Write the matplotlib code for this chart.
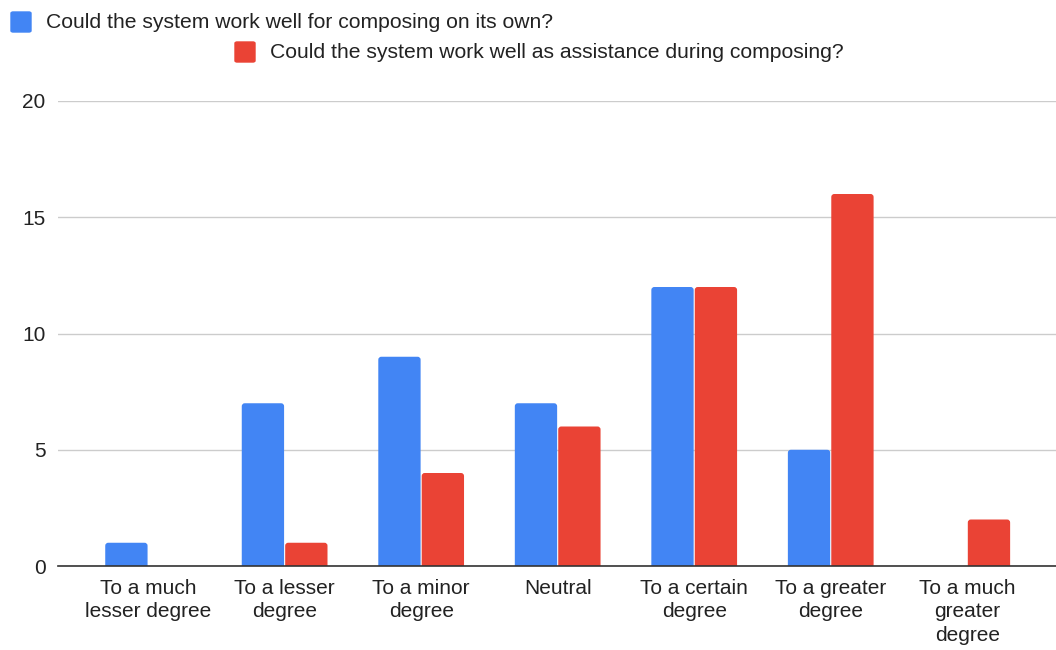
import numpy as np
import matplotlib.pyplot as plt
from matplotlib.patches import FancyBboxPatch

plt.rcParams['font.family'] = ['Liberation Sans', 'DejaVu Sans']

categories = ["To a much\nlesser degree", "To a lesser\ndegree", "To a minor\ndegree",
              "Neutral", "To a certain\ndegree", "To a greater\ndegree",
              "To a much\ngreater\ndegree"]
own_values = [1, 7, 9, 7, 12, 5, 0]
assist_values = [0, 1, 4, 6, 12, 16, 2]
series_names = ["Could the system work well for composing on its own?",
                "Could the system work well as assistance during composing?"]
yticks = [0, 5, 10, 15, 20]

BLUE = "#4285F4"
RED = "#EA4335"

fig = plt.figure(figsize=(10.56, 6.5), dpi=100)
ax = fig.add_axes([58 / 1056, 1 - 566 / 650, 1 - 58 / 1056, (566 - 101) / 650])

ax.set_xlim(-0.66, 6.65)
ax.set_ylim(0, 20)

x = np.arange(len(categories))
w = 0.31
bars_own = ax.bar(x - w / 2 - 0.004, own_values, w, color=BLUE)
bars_assist = ax.bar(x + w / 2 + 0.004, assist_values, w, color=RED)

# swap the plain rectangles for ones with slightly rounded tops
px_x = 136.5   # pixels per x unit
px_y = 23.25   # pixels per y unit
for container in (bars_own, bars_assist):
    for rect in container:
        bx, by = rect.get_x(), rect.get_y()
        bw, bh = rect.get_width(), rect.get_height()
        rect.set_visible(False)
        if bh <= 0:
            continue
        ax.add_patch(FancyBboxPatch((bx, by - 0.3), bw, bh + 0.3,
                                    boxstyle="round,pad=0,rounding_size=%f" % (3 / px_x),
                                    mutation_aspect=px_x / px_y,
                                    facecolor=rect.get_facecolor(), edgecolor='none',
                                    zorder=3))

ax.set_yticks(yticks)
ax.set_yticklabels([str(v) for v in yticks], fontsize=15, color='#222222')
ax.set_xticks(x)
ax.set_xticklabels(categories, fontsize=15, linespacing=1.33, color='#222222')
ax.tick_params(axis='both', length=0)
ax.tick_params(axis='y', pad=9)
ax.tick_params(axis='x', pad=9)

ax.grid(axis='y', color='#cccccc', linewidth=1, zorder=0)
for s in ['top', 'right', 'left']:
    ax.spines[s].set_visible(False)
ax.spines['bottom'].set_color('#333333')
ax.spines['bottom'].set_linewidth(1.2)
ax.spines['bottom'].set_zorder(4)

# legend, drawn by hand in two staggered rows
legend_rows = [(11, 22, BLUE, series_names[0]), (235, 52, RED, series_names[1])]
for px, py, col, label in legend_rows:
    fig.patches.append(FancyBboxPatch((px / 1056, 1 - (py + 10) / 650), 20 / 1056, 20 / 650,
                                      boxstyle="round,pad=0,rounding_size=0.002",
                                      transform=fig.transFigure, color=col))
    fig.text((px + 35) / 1056, 1 - py / 650, label, fontsize=15.2, va='center', ha='left',
             color='#222222')

fig.savefig("out.png", dpi=100)
